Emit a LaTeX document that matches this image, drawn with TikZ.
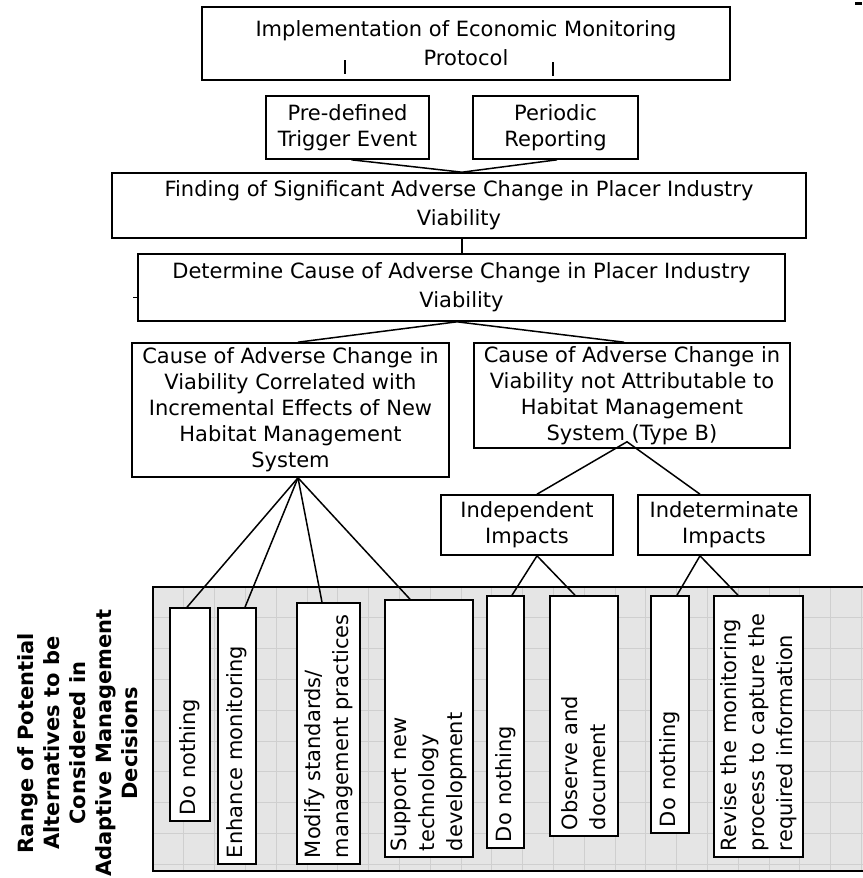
\documentclass[tikz,border=0pt]{standalone}
\usepackage{fontspec}
\setmainfont{DejaVu Sans}
\usetikzlibrary{calc}
\tikzset{
  bx/.style={draw, line width=1.6pt, fill=white, align=center, inner sep=0pt,
    font=\fontsize{21}{26}\selectfont},
  wbx/.style={bx, font=\fontsize{21}{29}\selectfont},
  vbx/.style={draw, line width=1.6pt, fill=white, rotate=90, inner xsep=6pt,
    inner ysep=0pt, align=left, font=\fontsize{21}{28}\selectfont},
  cn/.style={line width=1.5pt},
  gridln/.style={draw=gray!38, line width=0.8pt},
}
\begin{document}
\begin{tikzpicture}[x=1pt,y=-1pt]
\useasboundingbox (0,0) rectangle (862,878);
% grey band
\fill[gray!20] (153,587) rectangle (880,871);
\foreach \i in {1,...,23} {\draw[gridln] ({153+30.8*\i},587) -- ({153+30.8*\i},871);}
\foreach \j in {1,...,9} {\draw[gridln] (153,{587+30.8*\j}) -- (880,{587+30.8*\j});}
\draw[line width=1.6pt] (880,587) -- (153,587) -- (153,871) -- (880,871);

% title
\node[rotate=90, align=center, font=\bfseries\fontsize{21}{26}\selectfont] (title) at (78,743)
  {Range of Potential\\Alternatives to be\\Considered in\\Adaptive Management\\Decisions};

% upper boxes
\node[wbx, minimum width=528, minimum height=73] (top) at (466,43.5)
  {Implementation of Economic Monitoring\\Protocol};
\node[bx, minimum width=163, minimum height=63] (pre) at (347.5,127.5) {Pre-defined\\Trigger Event};
\node[bx, minimum width=165, minimum height=63] (per) at (555.5,127.5) {Periodic\\Reporting};
\node[wbx, minimum width=694, minimum height=65] (find) at (459,205.5)
  {Finding of Significant Adverse Change in Placer Industry\\Viability};
\node[wbx, minimum width=647, minimum height=67] (det) at (461.5,287.5)
  {Determine Cause of Adverse Change in Placer Industry\\Viability};
\node[bx, minimum width=317, minimum height=134] (ca) at (290.5,410)
  {Cause of Adverse Change in\\Viability Correlated with\\Incremental Effects of New\\Habitat Management\\System};
\node[bx, minimum width=316, minimum height=105] (cb) at (632,395.5)
  {Cause of Adverse Change in\\Viability not Attributable to\\Habitat Management\\System (Type B)};
\node[bx, minimum width=172, minimum height=60] (ind) at (527,525) {Independent\\Impacts};
\node[bx, minimum width=172, minimum height=60] (idt) at (724,525) {Indeterminate\\Impacts};

% vertical alternative boxes
\node[vbx, minimum width=213, minimum height=40, text width=201] (do1) at (190,714.5) {Do nothing};
\node[vbx, minimum width=256, minimum height=38, text width=244] (enh) at (237,736) {Enhance monitoring};
\node[vbx, minimum width=261, minimum height=63, text width=249] (mod) at (328.5,733.5) {Modify standards/\\management practices};
\node[vbx, minimum width=257, minimum height=88, text width=245] (sup) at (429,728.5) {Support new\\technology\\development};
\node[vbx, minimum width=252, minimum height=37, text width=240] (do2) at (505.5,722) {Do nothing};
\node[vbx, minimum width=240, minimum height=68, text width=228] (obs) at (584,716) {Observe and\\document};
\node[vbx, minimum width=237, minimum height=38, text width=225] (do3) at (670,714.5) {Do nothing};
\node[vbx, minimum width=261, minimum height=89, text width=249] (rev) at (758.5,726.5) {Revise the monitoring\\process to capture the\\required information};

% stubs and small marks
\coordinate (t1a) at (345,60); \coordinate (t1b) at (345,74);
\coordinate (t2a) at (553,62); \coordinate (t2b) at (553,76);
\draw[cn] (t1a) -- (t1b);
\draw[cn] (t2a) -- (t2b);
\coordinate (m1) at (133,297);
\draw[line width=1pt] (m1) -- (det.west |- m1);
\coordinate (m2a) at (855,3); \coordinate (m2b) at (862,3);
\draw[line width=3pt] (m2a) -- (m2b);

% connectors
\draw[cn] ([xshift=4pt]pre.south) -- ([xshift=3pt]find.north) -- ([xshift=1.5pt]per.south);
\draw[cn] ([xshift=3pt]find.south) -- ([xshift=0.5pt]det.north);
\draw[cn] ([xshift=7.5pt]ca.north) -- ([xshift=-4.5pt]det.south) -- ([xshift=-8pt]cb.north);
\draw[cn] ([xshift=10pt]ind.north) -- ([xshift=-5pt,yshift=7pt]cb.south) -- ([xshift=-24pt]idt.north);
\draw[cn] ([xshift=7.5pt]ca.south) -- ([xshift=-3pt]do1.east);
\draw[cn] ([xshift=7.5pt]ca.south) -- ([xshift=8pt]enh.east);
\draw[cn] ([xshift=7.5pt]ca.south) -- ([xshift=-6.5pt]mod.east);
\draw[cn] ([xshift=7.5pt]ca.south) -- ([xshift=-19pt]sup.east);
\draw[cn] ([xshift=6.5pt]do2.east) -- ([xshift=10pt]ind.south) -- ([xshift=-9pt]obs.east);
\draw[cn] ([xshift=7pt]do3.east) -- ([xshift=-24pt]idt.south) -- ([xshift=-20.5pt]rev.east);
\end{tikzpicture}
\end{document}
